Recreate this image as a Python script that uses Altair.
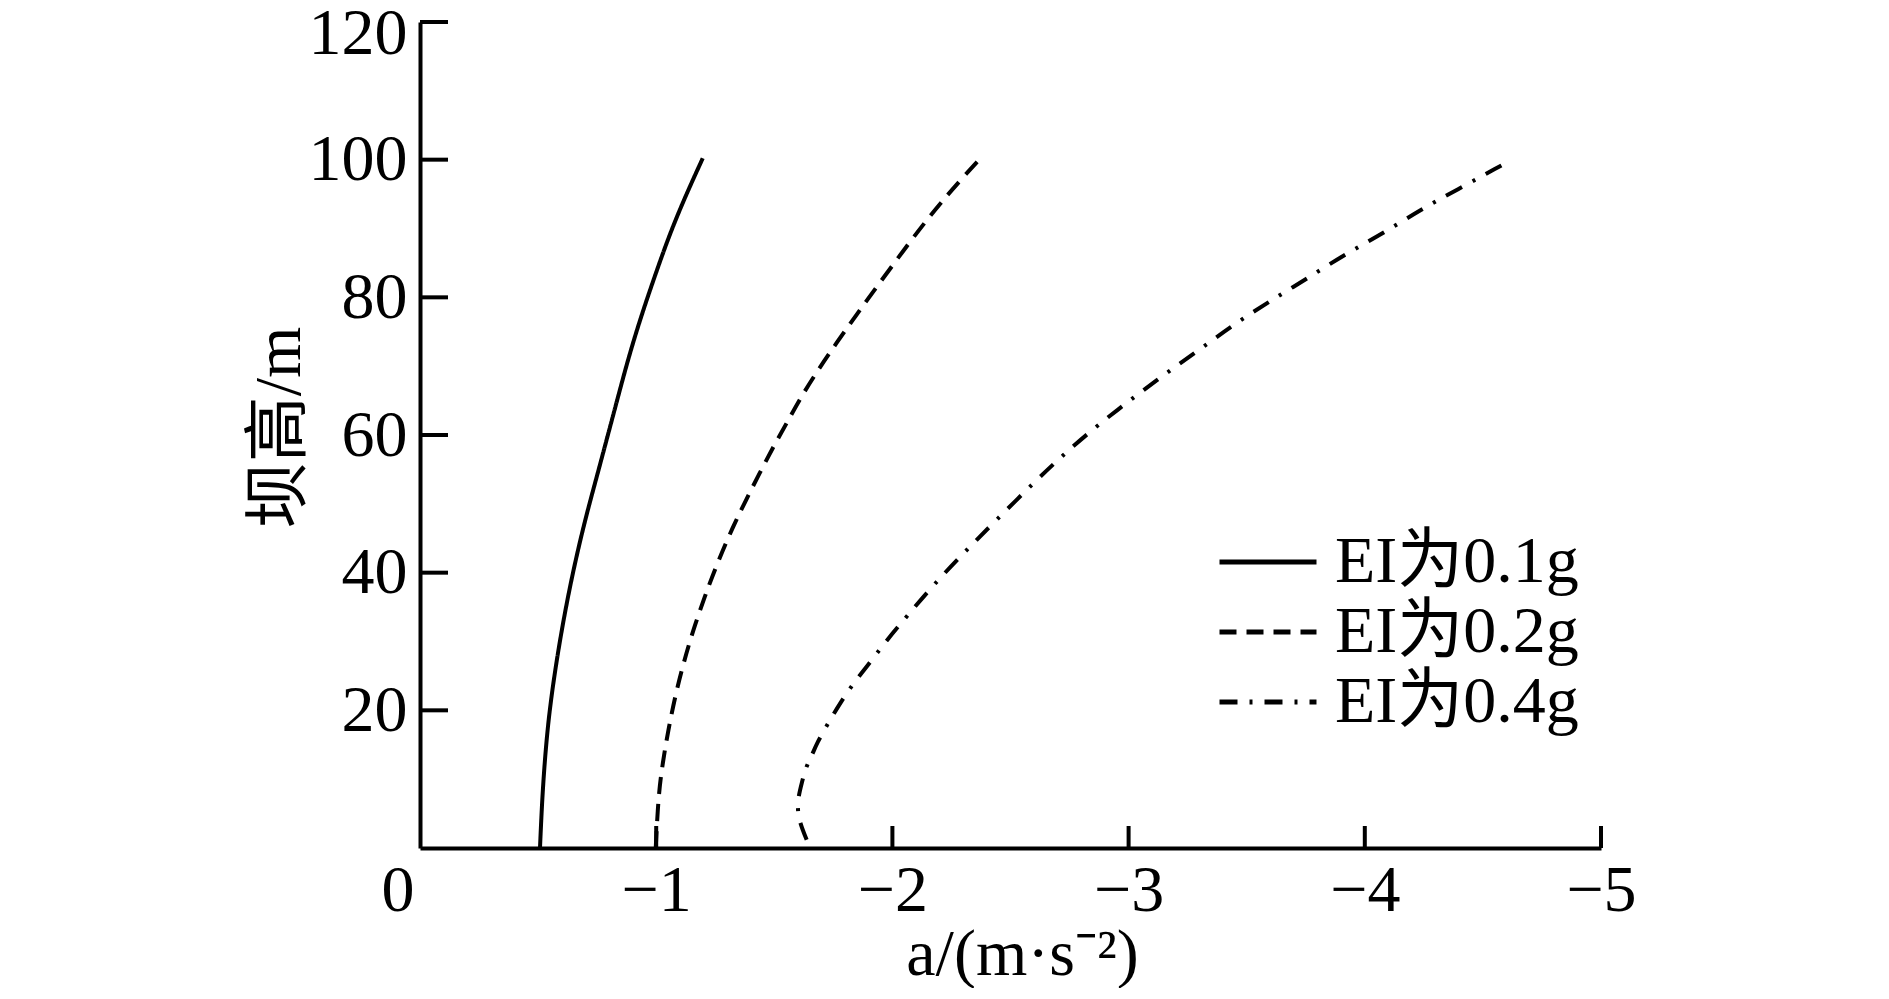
import altair as alt
import pandas as pd

series_names = ["EI为0.1g", "EI为0.2g", "EI为0.4g"]

# series EI = 0.1g  (h: dam height in m, a: acceleration in m/s^2)
h_01 = [0, 5.5, 11.3, 18.6, 25.9, 33.1, 40.4, 47.7, 53.5, 59.3, 65.1, 70.9, 76.7, 82.5, 89.3, 95.1, 100.2]
a_01 = [-0.508, -0.515, -0.525, -0.543, -0.572, -0.607, -0.649, -0.699, -0.745, -0.790,
        -0.835, -0.880, -0.931, -0.988, -1.058, -1.129, -1.197]

# series EI = 0.2g
h_02 = [0, 7.5, 12.3, 17.1, 22.0, 26.8, 31.7, 36.5, 41.4, 46.7, 50.6, 54.4, 58.3, 61.7,
        66.1, 69.9, 73.3, 76.7, 79.6, 83.5, 87.4, 91.0, 94.1, 97.3, 100.4]
a_02 = [-0.998, -1.009, -1.027, -1.051, -1.080, -1.115, -1.157, -1.205, -1.259, -1.325,
        -1.381, -1.437, -1.496, -1.552, -1.623, -1.694, -1.762, -1.832, -1.893, -1.976,
        -2.060, -2.140, -2.214, -2.295, -2.378]

# series EI = 0.4g
h_04 = [1.2, 3.6, 5.5, 7.5, 9.4, 11.8, 13.3, 15.2, 18.6, 21.0, 23.9, 26.3, 30.2, 33.6,
        38.2, 42.8, 47.2, 53.5, 57.8, 61.7, 65.6, 69.2, 72.8, 76.5, 79.9, 83.0, 86.4,
        89.3, 92.7, 95.6, 99.2]
a_04 = [-1.637, -1.609, -1.598, -1.602, -1.616, -1.634, -1.658, -1.679, -1.736, -1.778,
        -1.834, -1.891, -1.976, -2.060, -2.173, -2.300, -2.427, -2.611, -2.745, -2.879,
        -3.027, -3.168, -3.316, -3.464, -3.620, -3.768, -3.923, -4.078, -4.234, -4.389,
        -4.580]

x_label_values = [0, -1, -2, -3, -4, -5]
x_tick_values = [-1, -2, -3, -4, -5]
y_tick_values = [20, 40, 60, 80, 100, 120]

rows = []
for name, hs, avals in zip(series_names, [h_01, h_02, h_04], [a_01, a_02, a_04]):
    for i, (h, a) in enumerate(zip(hs, avals)):
        rows.append({"series": name, "h": h, "a": a, "idx": i})
df = pd.DataFrame(rows)

FONT = "Liberation Serif, Times New Roman, Noto Sans CJK SC, serif"
FS = 66
W, H = 1181, 826

xscale = alt.Scale(domain=[0, -5], nice=False, zero=False)
yscale = alt.Scale(domain=[0, 120], nice=False, zero=False)

lines = alt.Chart(df).mark_line(
    strokeWidth=4, color="black", interpolate="basis"
).encode(
    x=alt.X("a:Q", scale=xscale, axis=alt.Axis(
        values=x_label_values, format="d", title="a/(m·s⁻²)", ticks=False, grid=False,
        domainColor="black", domainWidth=4,
        labelFont=FONT, labelFontSize=FS, labelColor="black", labelPadding=10,
        labelAlign={"condition": {"test": "datum.value === 0", "value": "right"}, "value": "center"},
        labelOffset={"condition": {"test": "datum.value === 0", "value": -6}, "value": 0},
        labelFlush=False, labelOverlap=False,
        titleFont=FONT, titleFontSize=FS, titleFontWeight="normal", titleColor="black",
        titleX=602, titleY=106, titleBaseline="middle",
    )),
    y=alt.Y("h:Q", scale=yscale, axis=alt.Axis(
        values=y_tick_values, format="d", title="坝高/m", ticks=False, grid=False,
        domainColor="black", domainWidth=4,
        labelFont=FONT, labelFontSize=FS, labelColor="black", labelPadding=13,
        labelOffset={"condition": {"test": "datum.value === 120", "value": 11}, "value": 0},
        labelFlush=False, labelOverlap=False,
        titleFont=FONT, titleFontSize=FS, titleFontWeight="normal", titleColor="black",
        titleX=-141, titleY=405, titleBaseline="middle", titleAngle=270,
    )),
    strokeDash=alt.StrokeDash("series:N", scale=alt.Scale(
        domain=series_names, range=[[1, 0], [17, 10], [18, 12, 3, 12]]),
        legend=alt.Legend(
            title=None, orient="none", legendX=797, legendY=505,
            symbolType="M-1,0H1", symbolSize=9409, symbolStrokeWidth=5,
            symbolStrokeColor="black",
            labelFont=FONT, labelFontSize=FS, labelColor="black",
            labelLimit=500, labelOffset=16, rowPadding=0, clipHeight=70, padding=0,
        )),
    order="idx:Q",
)

yticks = alt.Chart(pd.DataFrame({"h": y_tick_values})).mark_rule(
    strokeWidth=4, color="black"
).encode(
    y=alt.Y("h:Q", scale=yscale),
    x=alt.value(0),
    x2=alt.value(28),
)

xticks = alt.Chart(pd.DataFrame({"a": x_tick_values})).mark_rule(
    strokeWidth=4, color="black"
).encode(
    x=alt.X("a:Q", scale=xscale),
    y=alt.value(H),
    y2=alt.value(H - 22),
)

chart = alt.layer(lines, yticks, xticks).properties(
    width=W, height=H,
    autosize=alt.AutoSizeParams(type="none"),
    padding={"left": 412, "top": 14, "right": 260, "bottom": 140},
    background="white",
).configure_view(stroke=None)

chart.save("out.html", embed_options={"renderer": "svg", "actions": False})
